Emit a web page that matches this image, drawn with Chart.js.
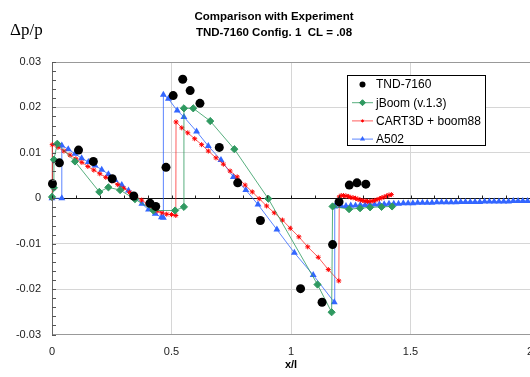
<!DOCTYPE html>
<html>
<head>
<meta charset="utf-8">
<script src="https://cdn.jsdelivr.net/npm/chart.js@4.4.0/dist/chart.umd.min.js"></script>
<style>
  html, body { margin: 0; padding: 0; background: #fff; overflow: hidden; }
  #wrap { width: 600px; height: 377px; }
</style>
</head>
<body>
<div id="wrap"><canvas id="chart" width="600" height="377"></canvas></div>
<script>
// values (x/l, dp/p)
const tndX = [0.002, 0.031, 0.111, 0.173, 0.252, 0.342, 0.410, 0.434, 0.477, 0.507, 0.547, 0.578,
  0.619, 0.700, 0.777, 0.872, 1.040, 1.130, 1.174, 1.201, 1.244, 1.276, 1.313];
const tndY = [0.0032, 0.0078, 0.0106, 0.0081, 0.0043, 0.0005, -0.0011, -0.0018, 0.0068, 0.0226, 0.0262, 0.0237,
  0.0209, 0.0112, 0.0034, -0.0049, -0.0199, -0.0229, -0.0102, -0.0008, 0.0029, 0.0034, 0.0031];

const jboomX = [0.000, 0.008, 0.008, 0.022, 0.096, 0.198, 0.236, 0.285, 0.347, 0.424, 0.515, 0.552,
  0.552, 0.591, 0.662, 0.763, 0.905, 1.111, 1.170, 1.174, 1.243, 1.289, 1.331, 1.379, 1.423];
const jboomY = [0.0003, 0.0023, 0.0085, 0.0120, 0.0081, 0.0014, 0.0024, 0.0018, -0.0002, -0.0027, -0.0027, -0.0019,
  0.0198, 0.0198, 0.0170, 0.0108, -0.0001, -0.0190, -0.0251, -0.0018, -0.0024, -0.0022, -0.0020, -0.0019, -0.0018];

const cartX = [0.000, 0.001, 0.025, 0.050, 0.075, 0.100, 0.125, 0.150, 0.175, 0.200, 0.225, 0.250,
  0.275, 0.300, 0.325, 0.350, 0.375, 0.400, 0.420, 0.440, 0.460, 0.480, 0.500, 0.518,
  0.519, 0.543, 0.568, 0.597, 0.626, 0.654, 0.686, 0.717, 0.745, 0.775, 0.808, 0.838,
  0.867, 0.898, 0.930, 0.964, 0.997, 1.033, 1.070, 1.114, 1.156, 1.200,
  1.202, 1.21, 1.22, 1.23, 1.24, 1.25, 1.26, 1.27, 1.28, 1.29, 1.30, 1.31,
  1.32, 1.33, 1.34, 1.35, 1.36, 1.37, 1.38, 1.39, 1.40, 1.41, 1.42];
const cartY = [0.0000, 0.0118, 0.0112, 0.0104, 0.0095, 0.0087, 0.0079, 0.0070, 0.0062, 0.0054, 0.0046, 0.0038,
  0.0030, 0.0022, 0.0013, 0.0005, -0.0004, -0.0013, -0.0021, -0.0028, -0.0032, -0.0035, -0.0036, -0.0038,
  0.0168, 0.0155, 0.0144, 0.0131, 0.0118, 0.0104, 0.0089, 0.0075, 0.0060, 0.0047, 0.0029, 0.0014,
  -0.0001, -0.0017, -0.0032, -0.0048, -0.0066, -0.0085, -0.0107, -0.0130, -0.0157, -0.0182,
  0.0003, 0.0006, 0.0006, 0.0005, 0.0004, 0.0002, 0.0001, 0.0000, -0.0002, -0.0004, -0.0005, -0.0006,
  -0.0007, -0.0007, -0.0006, -0.0005, -0.0003, -0.0001, 0.0001, 0.0003, 0.0005, 0.0007, 0.0008];

const a502X = [0.000, 0.041, 0.041, 0.068, 0.096, 0.124, 0.152, 0.180, 0.208, 0.236, 0.264, 0.292,
  0.320, 0.348, 0.376, 0.404, 0.432, 0.458, 0.466,
  0.466, 0.487, 0.524, 0.552, 0.605, 0.654, 0.707, 0.759, 0.811, 0.862, 0.941, 1.014, 1.093, 1.181,
  1.183, 1.21, 1.23, 1.25, 1.27, 1.29, 1.31, 1.33, 1.35, 1.37, 1.39, 1.41, 1.43, 1.45, 1.47,
  1.49, 1.51, 1.53, 1.55, 1.57, 1.59, 1.61, 1.63, 1.65, 1.67, 1.69, 1.71, 1.73, 1.75, 1.77,
  1.79, 1.81, 1.83, 1.85, 1.87, 1.89, 1.91, 1.93, 1.95, 1.97, 1.99];
const a502Y = [0.0000, 0.0000, 0.0116, 0.0108, 0.0098, 0.0088, 0.0080, 0.0072, 0.0063, 0.0053, 0.0040, 0.0029,
  0.0017, 0.0004, -0.0012, -0.0025, -0.0034, -0.0042, -0.0043,
  0.0228, 0.0219, 0.0193, 0.0179, 0.0147, 0.0115, 0.0084, 0.0047, 0.0018, -0.0014, -0.0069, -0.0120, -0.0169, -0.0229,
  -0.0018, -0.0017, -0.0017, -0.0016, -0.0016, -0.0015, -0.0015, -0.0014, -0.0014, -0.0013, -0.0013, -0.0012, -0.0012, -0.0012, -0.0011,
  -0.0011, -0.0011, -0.0010, -0.0010, -0.0010, -0.0010, -0.0009, -0.0009, -0.0009, -0.0009, -0.0009, -0.0008, -0.0008, -0.0008, -0.0008,
  -0.0008, -0.0007, -0.0007, -0.0007, -0.0007, -0.0007, -0.0007, -0.0006, -0.0006, -0.0006, -0.0006];

const seriesNames = ['TND-7160', 'jBoom (v.1.3)', 'CART3D + boom88', 'A502'];
const titleLines = ['Comparison with Experiment', 'TND-7160 Config. 1  CL = .08'];

function toPoints(xs, ys) {
  return xs.map((x, i) => ({ x: x, y: ys[i] }));
}

const SANS = '"Liberation Sans", Arial, sans-serif';

// tick marks inside the plot, title, y label and the boxed legend
const extras = {
  id: 'extras',
  afterDatasetsDraw(chart) {
    const ctx = chart.ctx;
    const xs = chart.scales.x, ys = chart.scales.y;
    const area = chart.chartArea;
    ctx.save();
    ctx.lineWidth = 1;

    ctx.strokeStyle = '#555';
    for (let i = -15; i <= 15; i++) {
      const y = Math.round(ys.getPixelForValue(i * 0.002)) + 0.5;
      ctx.beginPath();
      ctx.moveTo(area.left, y);
      ctx.lineTo(area.left + 4, y);
      ctx.stroke();
    }
    ctx.strokeStyle = '#222';
    const y0 = Math.round(ys.getPixelForValue(0)) + 0.5;
    for (let i = 0; i <= 20; i++) {
      const x = Math.round(xs.getPixelForValue(i * 0.1)) + 0.5;
      ctx.beginPath();
      ctx.moveTo(x, y0);
      ctx.lineTo(x, y0 - 3);
      ctx.stroke();
    }

    // legend box
    const bx = 347.5, by = 75.5, bw = 138, bh = 70;
    ctx.fillStyle = '#fff';
    ctx.fillRect(bx, by, bw, bh);
    ctx.strokeStyle = '#000';
    ctx.strokeRect(bx, by, bw, bh);
    chart.data.datasets.forEach((ds, i) => {
      const y = 84.5 + i * 18.2;
      if (ds.showLine) {
        ctx.strokeStyle = ds.borderColor;
        ctx.lineWidth = 1;
        ctx.beginPath();
        ctx.moveTo(352, y);
        ctx.lineTo(373, y);
        ctx.stroke();
      }
      ctx.fillStyle = ds.pointBackgroundColor;
      ctx.strokeStyle = ds.pointBorderColor;
      ctx.lineWidth = ds.pointBorderWidth;
      Chart.helpers.drawPoint(ctx, {
        pointStyle: ds.pointStyle,
        radius: ds.legendRadius,
        rotation: 0,
        borderWidth: ds.pointBorderWidth
      }, 362.5, y);
      ctx.fillStyle = '#000';
      ctx.font = '12px ' + SANS;
      ctx.textAlign = 'left';
      ctx.textBaseline = 'middle';
      ctx.fillText(ds.label, 376, y + 0.5);
    });

    // title
    ctx.fillStyle = '#000';
    ctx.textAlign = 'center';
    ctx.textBaseline = 'alphabetic';
    ctx.font = 'bold 11.5px ' + SANS;
    ctx.fillText(titleLines[0], 274, 19.5);
    ctx.fillText(titleLines[1], 274, 36);

    // y axis label
    ctx.textAlign = 'left';
    ctx.font = '17px "Liberation Serif", "Times New Roman", serif';
    ctx.fillText('\u0394p/p', 10, 35);
    ctx.restore();
  }
};

const ctx = document.getElementById('chart').getContext('2d');
new Chart(ctx, {
  type: 'scatter',
  data: {
    datasets: [
      {
        label: seriesNames[0],
        data: toPoints(tndX, tndY),
        showLine: false,
        pointStyle: 'circle',
        pointRadius: 4.5,
        legendRadius: 3,
        pointBackgroundColor: '#000',
        pointBorderColor: '#000',
        pointBorderWidth: 0,
        clip: 8
      },
      {
        label: seriesNames[1],
        data: toPoints(jboomX, jboomY),
        showLine: true,
        borderColor: 'rgba(46,155,95,0.8)',
        borderWidth: 1,
        pointStyle: 'rectRot',
        pointRadius: 3.6,
        legendRadius: 3,
        pointBackgroundColor: '#2f9960',
        pointBorderColor: '#2f9960',
        pointBorderWidth: 1,
        clip: 8
      },
      {
        label: seriesNames[2],
        data: toPoints(cartX, cartY),
        showLine: true,
        borderColor: 'rgba(255,40,40,0.75)',
        borderWidth: 1,
        pointStyle: 'star',
        pointRadius: 2.5,
        legendRadius: 1.5,
        pointBackgroundColor: '#ff0000',
        pointBorderColor: '#ff0000',
        pointBorderWidth: 1,
        clip: 8
      },
      {
        label: seriesNames[3],
        data: toPoints(a502X, a502Y),
        showLine: true,
        borderColor: 'rgba(51,102,255,0.8)',
        borderWidth: 1,
        pointStyle: 'triangle',
        pointRadius: 4,
        legendRadius: 3,
        pointBackgroundColor: '#3366ff',
        pointBorderColor: '#3366ff',
        pointBorderWidth: 0,
        clip: 8
      }
    ]
  },
  options: {
    responsive: false,
    animation: false,
    layout: { padding: { left: 0, right: 70, top: 62, bottom: 0 } },
    elements: { line: { tension: 0 } },
    plugins: {
      legend: { display: false },
      tooltip: { enabled: false },
      title: { display: false }
    },
    scales: {
      x: {
        type: 'linear',
        min: 0,
        max: 2,
        ticks: {
          stepSize: 0.5,
          padding: 11,
          color: '#222',
          font: { size: 11, family: SANS },
          callback: v => String(Math.round(v * 10) / 10)
        },
        grid: {
          drawTicks: false,
          color: c => (Math.abs(c.tick.value - 2) < 1e-9 ? '#999' : '#d6d6d6')
        },
        border: { color: '#999' },
        title: {
          display: true,
          text: 'x/l',
          color: '#000',
          font: { size: 11, weight: 'bold', family: SANS },
          padding: { top: 0, bottom: 5 }
        },
        afterFit: s => { s.height = 42.5; }
      },
      y: {
        type: 'linear',
        min: -0.03,
        max: 0.03,
        ticks: {
          stepSize: 0.01,
          padding: 11,
          color: '#222',
          font: { size: 11, family: SANS },
          callback: v => {
            const r = Math.round(v * 100) / 100;
            return r === 0 ? '0' : r.toFixed(2);
          }
        },
        grid: {
          drawTicks: false,
          color: c => {
            const v = c.tick.value;
            if (Math.abs(v) < 1e-9) return '#111';
            if (Math.abs(Math.abs(v) - 0.03) < 1e-9) return '#999';
            return '#d6d6d6';
          }
        },
        border: { color: '#666' },
        afterFit: s => { s.width = 52; }
      }
    }
  },
  plugins: [extras]
});
</script>
</body>
</html>
